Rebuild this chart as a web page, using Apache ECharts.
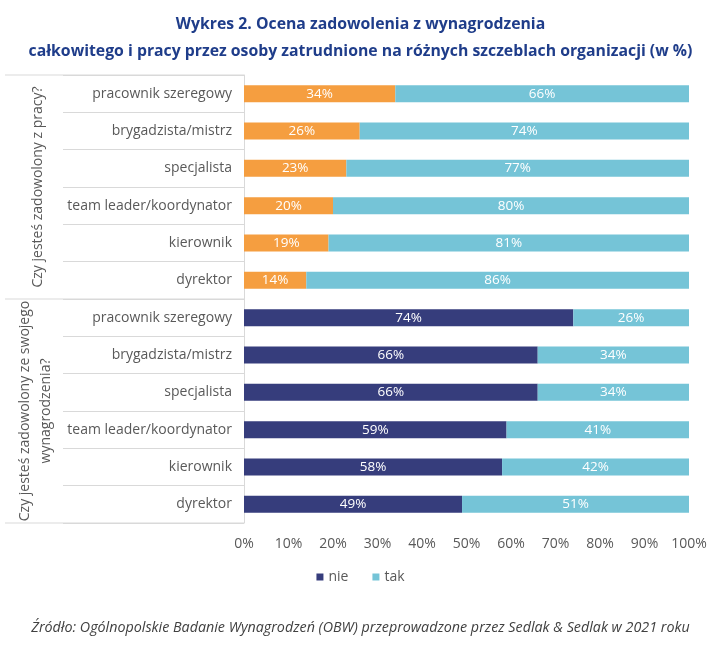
<!DOCTYPE html>
<html><head><meta charset="utf-8">
<script src="https://cdn.jsdelivr.net/npm/echarts@6/dist/echarts.min.js"></script>
<style>body{margin:0}#main{width:721px;height:646px}</style>
</head><body><div id="main"></div>
<script>
var categories = ['pracownik szeregowy', 'brygadzista/mistrz', 'specjalista', 'team leader/koordynator', 'kierownik', 'dyrektor',
  'pracownik szeregowy', 'brygadzista/mistrz', 'specjalista', 'team leader/koordynator', 'kierownik', 'dyrektor'];
var nieValues = [34, 26, 23, 20, 19, 14, 74, 66, 66, 59, 58, 49];
var takValues = [66, 74, 77, 80, 81, 86, 26, 34, 34, 41, 42, 51];
var groupLabels = ['Czy jesteś zadowolony z pracy?', 'Czy jesteś zadowolony ze swojego\nwynagrodzenia?'];

var chartDom = document.getElementById('main');
var myChart = echarts.init(chartDom);
var FONT = 'Open Sans';

var nieData = nieValues.map(function (v, i) {
  return i < 6 ? { value: v, itemStyle: { color: '#F59E40' } } : v;
});

var option = {
  textStyle: { fontFamily: FONT },
  title: {
    text: 'Wykres 2. Ocena zadowolenia z wynagrodzenia\ncałkowitego i pracy przez osoby zatrudnione na różnych szczeblach organizacji (w %)',
    left: 'center', top: 6,
    textStyle: { color: '#1F3D8A', fontSize: 15.8, fontWeight: 'bold', lineHeight: 27, fontFamily: FONT }
  },
  legend: {
    bottom: 57, itemWidth: 7, itemHeight: 7, itemGap: 24,
    icon: 'rect',
    textStyle: { color: '#595959', fontSize: 14 },
    data: ['nie', 'tak']
  },
  grid: { left: 244, right: 32, top: 75, bottom: 123 },
  xAxis: {
    type: 'value', min: 0, max: 100, interval: 10,
    axisLabel: { formatter: '{value}%', color: '#595959', fontSize: 14, margin: 14 },
    splitLine: { show: false }, axisLine: { show: false }, axisTick: { show: false }
  },
  yAxis: {
    type: 'category', inverse: true, data: categories,
    axisLine: { show: true, lineStyle: { color: '#D9D9D9' } },
    axisTick: { show: true, length: 181, interval: 0, lineStyle: { color: '#D9D9D9' } },
    axisLabel: { color: '#595959', fontSize: 14, margin: 12 }
  },
  series: [
    {
      name: 'nie', type: 'bar', stack: 't', barWidth: 17,
      itemStyle: { color: '#363D7C' },
      label: { show: true, formatter: '{c}%', color: '#fff', fontSize: 13.5 },
      data: nieData
    },
    {
      name: 'tak', type: 'bar', stack: 't', barWidth: 17,
      itemStyle: { color: '#75C4D7' },
      label: { show: true, formatter: '{c}%', color: '#fff', fontSize: 13.5 },
      data: takValues
    }
  ],
  graphic: [
    { type: 'line', shape: { x1: 5, y1: 75, x2: 244, y2: 75 }, style: { stroke: '#D9D9D9', lineWidth: 1 } },
    { type: 'line', shape: { x1: 5, y1: 299, x2: 244, y2: 299 }, style: { stroke: '#D9D9D9', lineWidth: 1 } },
    { type: 'line', shape: { x1: 5, y1: 523, x2: 244, y2: 523 }, style: { stroke: '#D9D9D9', lineWidth: 1 } },
    { type: 'text', x: 38, y: 187, rotation: Math.PI / 2,
      style: { text: groupLabels[0], fill: '#595959', font: '14px "Open Sans"', textAlign: 'center', textVerticalAlign: 'middle' } },
    { type: 'text', x: 36, y: 411, rotation: Math.PI / 2,
      style: { text: groupLabels[1], fill: '#595959', font: '14px "Open Sans"', textAlign: 'center', textVerticalAlign: 'middle', lineHeight: 21 } },
    { type: 'text', left: 'center', top: 621,
      style: { text: 'Źródło: Ogólnopolskie Badanie Wynagrodzeń (OBW) przeprowadzone przez Sedlak & Sedlak w 2021 roku',
        fill: '#404040', font: 'italic 14.3px "Open Sans"' } }
  ]
};

option && myChart.setOption(option);
window.onresize = function() {
  myChart.resize();
};
</script></body></html>
